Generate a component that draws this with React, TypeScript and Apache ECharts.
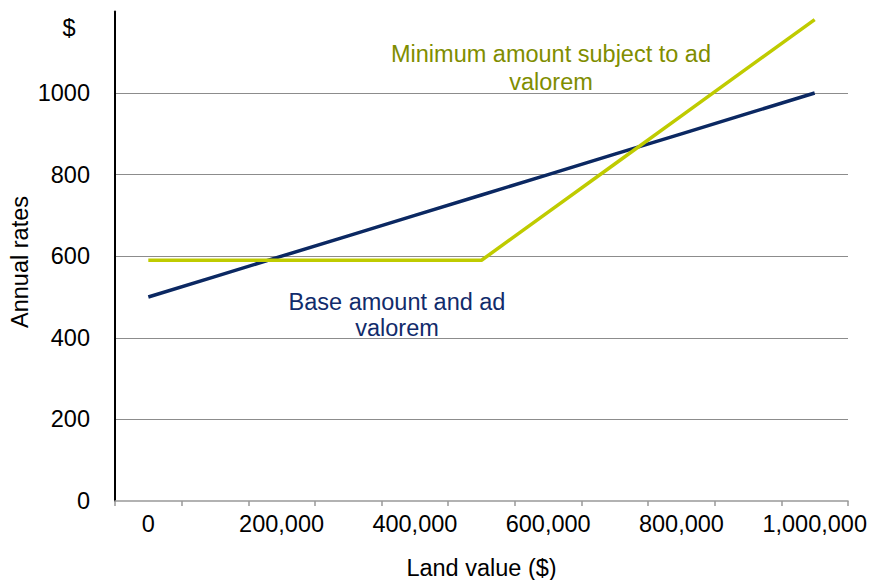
import React, { useEffect, useRef } from "react";
import * as echarts from "echarts";

const categories = ["0", "100,000", "200,000", "300,000", "400,000", "500,000", "600,000", "700,000", "800,000", "900,000", "1,000,000"];
const baseAmount = [500, 550, 600, 650, 700, 750, 800, 850, 900, 950, 1000];
const minimumAmount = [590, 590, 590, 590, 590, 590, 708, 826, 944, 1062, 1180];
const yTicks = { min: 0, max: 1200, interval: 200 };
const unitLabel = "$";
const yTitle = "Annual rates";
const labelMin = "Minimum amount subject to ad\nvalorem";
const labelBase = "Base amount and ad\nvalorem";

const FONT = "'Liberation Sans', Arial, sans-serif";
const FS = 23.5;

export default function App() {
  const ref = useRef<HTMLDivElement>(null);
  useEffect(() => {
    const chart = echarts.init(ref.current!, null, { renderer: "svg" });
    chart.setOption({
      animation: false,
      textStyle: { fontFamily: FONT },
      grid: { left: 115, right: 22, top: 11.4, bottom: 79, containLabel: false, outerBoundsMode: "none" },
      xAxis: {
        type: "category",
        data: categories,
        boundaryGap: true,
        name: "Land value ($)",
        nameLocation: "middle",
        nameGap: 55,
        nameTextStyle: { fontSize: FS, color: "#000", fontFamily: FONT },
        axisLine: { lineStyle: { color: "#999", width: 1.5 } },
        axisTick: { show: true, interval: 0, length: 5, lineStyle: { color: "#999", width: 1.5 } },
        axisLabel: { interval: 1, margin: 11, fontSize: FS, color: "#000", fontFamily: FONT },
        splitLine: { show: false },
      },
      yAxis: {
        type: "value",
        min: yTicks.min,
        max: yTicks.max,
        interval: yTicks.interval,
        axisLine: { show: true, lineStyle: { color: "#000", width: 2 } },
        axisTick: { show: false },
        axisLabel: {
          margin: 25,
          fontSize: FS,
          color: "#000",
          fontFamily: FONT,
          formatter: (v: number) => (v === yTicks.max ? "" : String(v)),
        },
        splitLine: { show: true, showMinLine: false, showMaxLine: false, lineStyle: { color: "#8c8c8c", width: 1.2 } },
      },
      series: [
        {
          name: "Base amount and ad valorem",
          type: "line",
          data: baseAmount,
          symbol: "none",
          lineStyle: { color: "#0b2862", width: 3.5 },
          z: 3,
        },
        {
          name: "Minimum amount subject to ad valorem",
          type: "line",
          data: minimumAmount,
          symbol: "none",
          lineStyle: { color: "#bfcb00", width: 3.5 },
          z: 4,
        },
      ],
      graphic: [
        {
          type: "text",
          x: 20,
          y: 262,
          rotation: Math.PI / 2,
          style: { text: yTitle, fill: "#000", font: `${FS}px ${FONT}`, align: "center", verticalAlign: "middle" },
        },
        {
          type: "text",
          x: 69,
          y: 28,
          style: { text: unitLabel, fill: "#000", font: `${FS}px ${FONT}`, align: "center", verticalAlign: "middle" },
        },
        {
          type: "text",
          x: 551,
          y: 40,
          style: { text: labelMin, fill: "#7f8d00", font: `${FS}px ${FONT}`, align: "center", verticalAlign: "top", lineHeight: 28 },
        },
        {
          type: "text",
          x: 397,
          y: 289,
          style: { text: labelBase, fill: "#112b6b", font: `${FS}px ${FONT}`, align: "center", verticalAlign: "top", lineHeight: 26 },
        },
      ],
    });
    return () => chart.dispose();
  }, []);
  return <div ref={ref} style={{ width: 870, height: 580, position: "absolute", left: 0, top: 0 }} />;
}
